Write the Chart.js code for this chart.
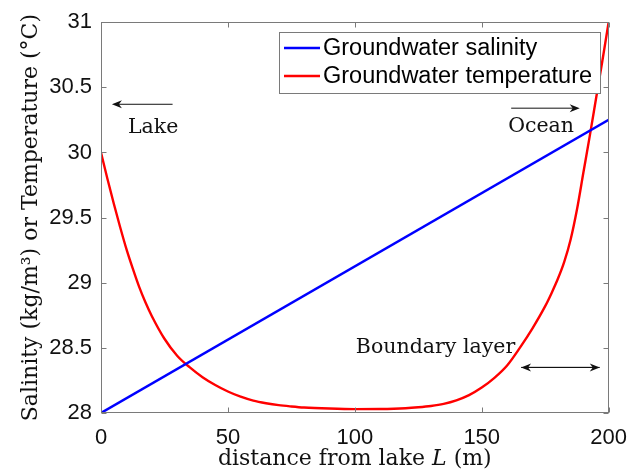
<!DOCTYPE html>
<html><head><meta charset="utf-8">
<script src="https://cdn.jsdelivr.net/npm/chart.js@4/dist/chart.umd.min.js"></script>
<style>html,body{margin:0;padding:0;background:#fff;}</style>
</head><body>
<canvas id="c" width="639" height="473"></canvas>
<script>
// ---- data ----
const distance = [0,2.5,5,7.5,10,12.5,15,17.5,20,25,30,35,40,45,50,55,60,65,70,75,80,90,100,110,120,125,130,135,140,145,150,155,160,165,170,175,177.5,180,182.5,185,187.5,190,192.5,195,197.5,200];
const temperature = [30.00,29.80,29.61,29.43,29.26,29.11,28.97,28.85,28.745,28.57,28.44,28.35,28.275,28.215,28.165,28.125,28.095,28.075,28.06,28.05,28.042,28.034,28.03,28.031,28.037,28.044,28.054,28.07,28.097,28.137,28.195,28.27,28.365,28.50,28.65,28.82,28.92,29.03,29.16,29.33,29.56,29.84,30.12,30.41,30.70,31.00];
const salinityDistance = [0, 200];
const salinity = [28.00, 30.25];
const xTicks = [0, 50, 100, 150, 200];
const yTicks = [28, 28.5, 29, 29.5, 30, 30.5, 31];
const seriesNames = ['Groundwater salinity', 'Groundwater temperature'];
const seriesColors = ['#0000ff', '#ff0000'];
const yTitle = 'Salinity (kg/m\u00B3) or Temperature (\u00B0C)';
const xTitleParts = ['distance from lake ', 'L', ' (m)'];
// annotation texts anchored at data coordinates
const noteTexts = ['Lake', 'Ocean', 'Boundary layer'];
const noteX = [10.6, 160.4, 100.4];
const noteY = [30.19, 30.20, 28.505];
// arrows: [x from, x to, y], heads at 'to' (double-headed for the third)
const arrowFrom = [28.2, 161.6, 165.5];
const arrowTo = [4.3, 188.6, 196.5];
const arrowY = [30.37, 30.34, 28.35];
const arrowDouble = [false, false, true];

const AXIS = '#7a7a7a';
const SERIF = '"DejaVu Serif", "Liberation Serif", serif';
const SANS = '"Liberation Sans", Arial, sans-serif';

function drawHead(ctx, x, y, dir) {
  ctx.beginPath();
  ctx.moveTo(x, y);
  ctx.lineTo(x - dir * 10, y - 4);
  ctx.lineTo(x - dir * 7, y);
  ctx.lineTo(x - dir * 10, y + 4);
  ctx.closePath();
  ctx.fill();
}

const deco = {
  id: 'deco',
  afterDatasetsDraw(chart) {
    const {ctx, chartArea: a, scales: {x, y}} = chart;
    ctx.save();
    // box
    ctx.strokeStyle = AXIS; ctx.lineWidth = 1;
    const L = Math.round(a.left) + 0.5, R = Math.round(a.right) - 0.5;
    const T = Math.round(a.top) + 0.5, B = Math.round(a.bottom) - 0.5;
    ctx.strokeRect(L, T, R - L, B - T);
    // inward ticks, mirrored
    ctx.beginPath();
    xTicks.forEach(v => {
      const px = Math.round(x.getPixelForValue(v)) + 0.5;
      ctx.moveTo(px, B); ctx.lineTo(px, B - 5);
      ctx.moveTo(px, T); ctx.lineTo(px, T + 5);
    });
    yTicks.forEach(v => {
      const py = Math.round(y.getPixelForValue(v)) + 0.5;
      ctx.moveTo(L, py); ctx.lineTo(L + 5, py);
      ctx.moveTo(R, py); ctx.lineTo(R - 5, py);
    });
    ctx.stroke();

    // annotations
    ctx.fillStyle = '#111'; ctx.strokeStyle = '#111';
    ctx.font = '20.5px ' + SERIF;
    ctx.textBaseline = 'middle'; ctx.textAlign = 'left';
    noteTexts.forEach((t, i) => {
      ctx.fillText(t, x.getPixelForValue(noteX[i]), y.getPixelForValue(noteY[i]));
    });
    ctx.lineWidth = 1;
    arrowFrom.forEach((f, i) => {
      const x0 = x.getPixelForValue(f), x1 = x.getPixelForValue(arrowTo[i]);
      const py = y.getPixelForValue(arrowY[i]);
      const dir = Math.sign(x1 - x0);
      ctx.beginPath(); ctx.moveTo(x0, py); ctx.lineTo(x1 - dir * 6, py); ctx.stroke();
      drawHead(ctx, x1, py, dir);
      if (arrowDouble[i]) {
        ctx.beginPath(); ctx.moveTo(x0 + dir * 6, py); ctx.lineTo(x1, py); ctx.stroke();
        drawHead(ctx, x0, py, -dir);
      }
    });

    // legend
    const lx = Math.round(a.right) - 330, ly = Math.round(a.top) + 10, lw = 321, lh = 61;
    ctx.fillStyle = '#fff';
    ctx.fillRect(lx, ly, lw, lh);
    ctx.strokeStyle = AXIS; ctx.lineWidth = 1;
    ctx.strokeRect(lx + 0.5, ly + 0.5, lw, lh);
    ctx.font = '23.5px ' + SANS;
    ctx.textBaseline = 'middle';
    chart.data.datasets.forEach((ds, i) => {
      const cy = ly + 16 + i * 28;
      ctx.strokeStyle = ds.borderColor; ctx.lineWidth = 2.4;
      ctx.beginPath(); ctx.moveTo(lx + 5, cy); ctx.lineTo(lx + 41, cy); ctx.stroke();
      ctx.fillStyle = '#000';
      ctx.fillText(ds.label, lx + 44, cy + 1);
    });

    // x title with italic L
    ctx.fillStyle = '#111';
    const fonts = ['22px ' + SERIF, 'italic 22px ' + SERIF, '22px ' + SERIF];
    let total = 0;
    const widths = xTitleParts.map((p, i) => { ctx.font = fonts[i]; const w = ctx.measureText(p).width; total += w; return w; });
    let cx = (a.left + a.right) / 2 - total / 2;
    ctx.textBaseline = 'alphabetic';
    xTitleParts.forEach((p, i) => { ctx.font = fonts[i]; ctx.fillText(p, cx, 465); cx += widths[i]; });
    ctx.restore();
  }
};

new Chart(document.getElementById('c'), {
  type: 'line',
  data: {
    datasets: [
      { label: seriesNames[0], data: salinityDistance.map((d, i) => ({x: d, y: salinity[i]})),
        borderColor: seriesColors[0], borderWidth: 2.4, pointRadius: 0, fill: false },
      { label: seriesNames[1], data: distance.map((d, i) => ({x: d, y: temperature[i]})),
        borderColor: seriesColors[1], borderWidth: 2.4, pointRadius: 0, fill: false,
        cubicInterpolationMode: 'monotone' }
    ]
  },
  options: {
    responsive: false, animation: false, devicePixelRatio: 1,
    layout: { padding: { top: 22, right: 28, left: 0, bottom: 0 } },
    plugins: { legend: { display: false }, tooltip: { enabled: false } },
    scales: {
      x: {
        type: 'linear', min: 0, max: 200,
        afterBuildTicks: s => { s.ticks = xTicks.map(v => ({value: v})); },
        afterFit: s => { s.height = 60; },
        grid: { display: false, drawTicks: false }, border: { display: false },
        ticks: { padding: 12, color: '#111', font: { family: SANS, size: 22 }, maxRotation: 0,
                 callback: v => String(v) }
      },
      y: {
        type: 'linear', min: 28, max: 31,
        afterBuildTicks: s => { s.ticks = yTicks.map(v => ({value: v})); },
        afterFit: s => { s.width = 101; },
        grid: { display: false, drawTicks: false }, border: { display: false },
        ticks: { padding: 9, color: '#111', font: { family: SANS, size: 22 },
                 callback: v => String(v) },
        title: { display: true, text: yTitle, color: '#111',
                 font: { family: SERIF, size: 22 }, padding: { top: 18, bottom: 0 } }
      }
    }
  },
  plugins: [deco]
});
</script>
</body></html>
